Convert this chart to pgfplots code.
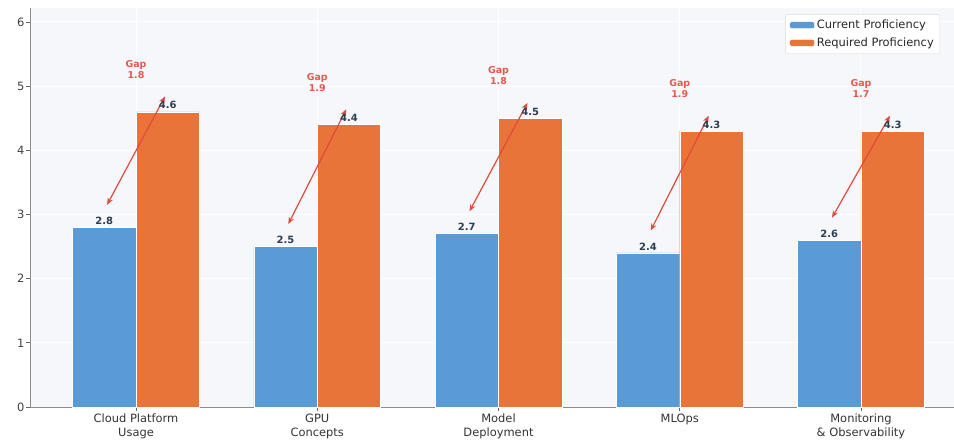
\documentclass[border=0pt]{standalone}
\usepackage{pgfplots}
\pgfplotsset{compat=1.18}
\usepackage{pgfplotstable}
\usetikzlibrary{arrows.meta}
\usepackage{fontspec}
\setmainfont{DejaVu Sans}
\definecolor{cblue}{RGB}{91,155,213}
\definecolor{corange}{RGB}{233,116,57}
\definecolor{cred}{RGB}{226,72,60}
\definecolor{cnavy}{RGB}{44,62,80}
\definecolor{cbg}{RGB}{245,247,250}
\pgfplotstableread{
xb xo cur req
-0.175 0.175 2.8 4.6
0.825 1.175 2.5 4.4
1.825 2.175 2.7 4.5
2.825 3.175 2.4 4.3
3.825 4.175 2.6 4.3
}\datatable
\begin{document}
\begin{tikzpicture}
\begin{axis}[
  at={(0,0)}, anchor=south west,
  scale only axis,
  width=937bp, height=398.5bp,
  xmin=-0.585, xmax=4.585,
  ymin=0, ymax=6.21,
  xtick={0,1,2,3,4},
  xticklabels={{Cloud Platform\\Usage},{GPU\\Concepts},{Model\\Deployment},{MLOps},{Monitoring\\\& Observability}},
  xticklabel style={align=center, font=\fontsize{11.5}{14.5}\selectfont, text=black!80, inner sep=2pt, yshift=-1bp},
  ytick={0,1,2,3,4,5,6},
  yticklabel style={font=\fontsize{11.5}{13}\selectfont, text=black!75, inner sep=2pt},
  /pgf/number format/assume math mode=true,
  axis x line*=bottom, axis y line*=left,
  axis line style={-, draw=black!45, line width=0.9pt},
  major tick length=3.5bp,
  tick style={draw=black!60, line width=0.7pt},
  tick align=outside,
  grid=major,
  major grid style={draw=white, line width=1pt},
  axis background/.style={fill=cbg},
  legend style={at={(rel axis cs:0.806,0.985)}, anchor=north west, font=\fontsize{11.5}{13}\selectfont, text=black!85, draw=black!15, fill=white, rounded corners=1.5pt, row sep=3.5pt, inner xsep=4pt, inner ysep=3.5pt},
  legend cell align=left,
  legend image code/.code={\fill[#1] (0bp,-3.5bp) rectangle (25bp,3.5bp);},
  clip=false,
]
\addplot[ybar, bar width=0.35, bar shift=0, fill=cblue, draw=white, line width=0.5pt,
  nodes near coords, nodes near coords style={font=\bfseries\fontsize{10}{11}\selectfont, text=cnavy, inner sep=2.5pt},
  point meta=explicit symbolic] table[x=xb, y=cur, meta=cur] {\datatable};
\addlegendentry{Current Proficiency}
\addplot[ybar, bar width=0.35, bar shift=0, fill=corange, draw=white, line width=0.5pt,
  nodes near coords, nodes near coords style={font=\bfseries\fontsize{10}{11}\selectfont, text=cnavy, inner sep=2.5pt},
  point meta=explicit symbolic] table[x=xo, y=req, meta=req] {\datatable};
\addlegendentry{Required Proficiency}
% gap arrows
\pgfplotsset{gaparrow/.style={cred, line width=1.2pt, {Stealth[length=7bp,width=5.5bp]}-{Stealth[length=7bp,width=5.5bp]}, forget plot}}
\addplot[gaparrow] coordinates {(-0.16,3.15) (0.16,4.84)};
\addplot[gaparrow] coordinates {(0.84,2.85) (1.16,4.64)};
\addplot[gaparrow] coordinates {(1.84,3.05) (2.16,4.74)};
\addplot[gaparrow] coordinates {(2.84,2.75) (3.16,4.54)};
\addplot[gaparrow] coordinates {(3.84,2.95) (4.16,4.54)};
\tikzset{gapl/.style={text=cred!90, font=\bfseries\fontsize{9.5}{11}\selectfont, align=center, inner sep=0pt}}
\node[gapl] at (axis cs:0,5.26) {Gap\\1.8};
\node[gapl] at (axis cs:1,5.06) {Gap\\1.9};
\node[gapl] at (axis cs:2,5.16) {Gap\\1.8};
\node[gapl] at (axis cs:3,4.96) {Gap\\1.9};
\node[gapl] at (axis cs:4,4.96) {Gap\\1.7};
\end{axis}
\pgfresetboundingbox
\useasboundingbox (-30bp,-37bp) rectangle (924bp,407bp);
\end{tikzpicture}
\end{document}
